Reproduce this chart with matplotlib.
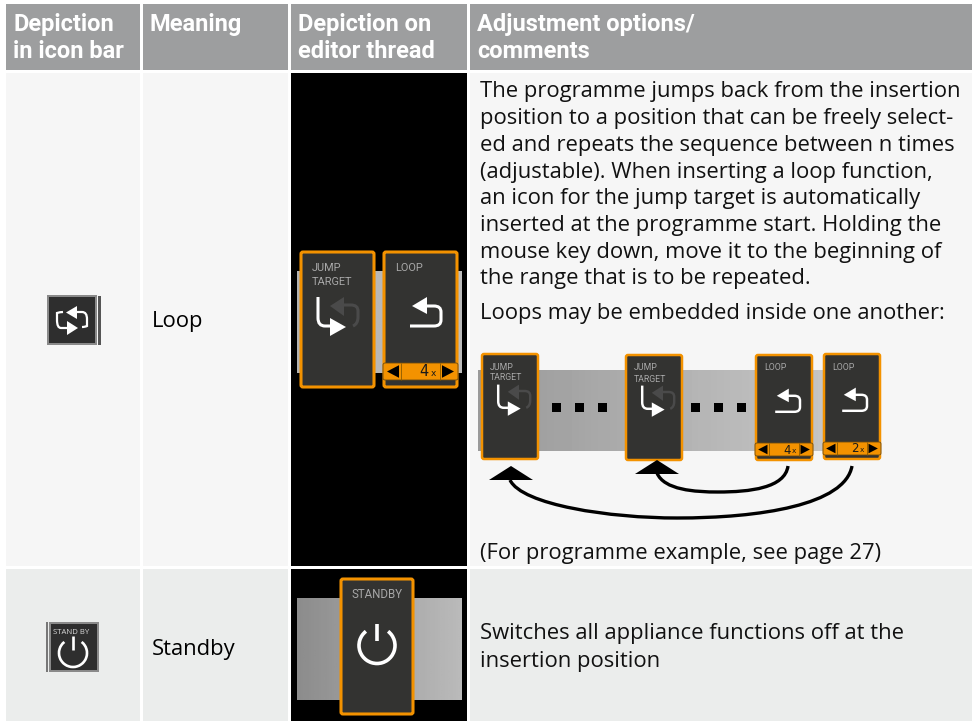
import numpy as np
import matplotlib
matplotlib.use("Agg")
import matplotlib.pyplot as plt
from matplotlib.patches import Rectangle, FancyBboxPatch, Polygon, Arc, PathPatch
from matplotlib.path import Path

headers = [["Depiction", "in icon bar"], ["Meaning"], ["Depiction on", "editor thread"], ["Adjustment options/", "comments"]]
meanings = ["Loop", "Standby"]
loop_lines = ["The programme jumps back from the insertion",
              "position to a position that can be freely select-",
              "ed and repeats the sequence between n times",
              "(adjustable). When inserting a loop function,",
              "an icon for the jump target is automatically",
              "inserted at the programme start. Holding the",
              "mouse key down, move it to the beginning of",
              "the range that is to be repeated."]
embedded_line = "Loops may be embedded inside one another:"
example_line = "(For programme example, see page 27)"
standby_lines = ["Switches all appliance functions off at the", "insertion position"]
col_edges = [(6, 140), (143, 288), (291, 467), (470, 972)]
header_x = [13, 149, 298, 477]

FONT = "Open Sans"
HFONT = "Roboto"
BODY = 15.8
ORANGE = "#f39200"
DARK = "#333331"
fig = plt.figure(figsize=(9.72, 7.21), dpi=100)
ax = fig.add_axes([0, 0, 1, 1])
ax.set_xlim(0, 972); ax.set_ylim(721, 0); ax.axis("off")

def rect(x0, y0, x1, y1, c, z=1):
    ax.add_patch(Rectangle((x0, y0), x1 - x0, y1 - y0, fc=c, ec="none", zorder=z))

def grad(x0, y0, x1, y1, c0, c1, z=2):
    g = np.linspace(c0, c1, 64).reshape(1, -1)
    ax.imshow(g, extent=(x0, x1, y1, y0), cmap="gray", vmin=0, vmax=1, aspect="auto", zorder=z)
    ax.set_xlim(0, 972); ax.set_ylim(721, 0)

def line(xs, ys, c="white", lw=1.6, z=6):
    ax.plot(xs, ys, color=c, lw=lw, zorder=z, solid_capstyle="butt")

def tri(pts, c="white", z=6):
    ax.add_patch(Polygon(pts, closed=True, fc=c, ec="none", zorder=z))

def card(x0, y0, x1, y1, lw=2.2):
    ax.add_patch(FancyBboxPatch((x0 + 2, y0 + 2), x1 - x0 - 4, y1 - y0 - 4, boxstyle="round,pad=1,rounding_size=2",
                                fc=DARK, ec=ORANGE, lw=lw, zorder=4))

def loop_arrow(cx, cy, s=1.0):
    ax.add_patch(PathPatch(Path([(cx - 16*s, cy + 11*s), (cx + 8*s, cy + 11*s), (cx + 15*s, cy + 11*s), (cx + 15*s, cy + 5*s),
                                 (cx + 15*s, cy - 3*s), (cx + 15*s, cy - 9*s), (cx + 8*s, cy - 9*s), (cx - 2*s, cy - 9*s)],
                                [Path.MOVETO, Path.LINETO, Path.CURVE3, Path.CURVE3, Path.LINETO, Path.CURVE3, Path.CURVE3, Path.LINETO]),
                           fc="none", ec="white", lw=2.2*s, zorder=6))
    tri([(cx - 14*s, cy - 9*s), (cx + 1*s, cy - 18*s), (cx + 1*s, cy - 1*s)])

def jump_arrow(cx, cy, s=1.0):
    ax.add_patch(PathPatch(Path([(cx + 2*s, cy - 10*s), (cx + 12*s, cy - 10*s), (cx + 19*s, cy - 10*s), (cx + 19*s, cy - 4*s),
                                 (cx + 19*s, cy + 2*s), (cx + 19*s, cy + 9*s), (cx + 14*s, cy + 11*s)],
                                [Path.MOVETO, Path.LINETO, Path.CURVE3, Path.CURVE3, Path.LINETO, Path.CURVE3, Path.CURVE3]),
                           fc="none", ec="#4a4a4a", lw=2.2*s, zorder=5))
    tri([(cx - 9*s, cy - 9*s), (cx + 5*s, cy - 18*s), (cx + 5*s, cy + 1*s)], c="#4a4a4a", z=5)
    ax.add_patch(PathPatch(Path([(cx - 21*s, cy - 18*s), (cx - 21*s, cy + 3*s), (cx - 21*s, cy + 11*s), (cx - 14*s, cy + 11*s), (cx - 4*s, cy + 11*s)],
                                [Path.MOVETO, Path.LINETO, Path.CURVE3, Path.CURVE3, Path.LINETO]),
                           fc="none", ec="white", lw=2.2*s, zorder=6))
    tri([(cx + 7*s, cy + 12*s), (cx - 9*s, cy + 3*s), (cx - 9*s, cy + 21*s)])

def stepper(x0, x1, y0, y1, label, fs, s=1.0):
    ax.add_patch(FancyBboxPatch((x0 + 1, y0 + 1), x1 - x0 - 2, y1 - y0 - 2, boxstyle="round,pad=1,rounding_size=2",
                                fc=ORANGE, ec="#6b4a10", lw=0.6, zorder=5))
    my = (y0 + y1) / 2; h = (y1 - y0) * 0.37
    tri([(x0 + 4*s, my), (x0 + 16*s, my - h), (x0 + 16*s, my + h)], c="black")
    tri([(x1 - 4*s, my), (x1 - 16*s, my - h), (x1 - 16*s, my + h)], c="black")
    line([x0 + 18*s, x0 + 18*s], [y0, y1], c="#8a5a00", lw=0.6)
    line([x1 - 18*s, x1 - 18*s], [y0, y1], c="#8a5a00", lw=0.6)
    ax.text(x1 - 29*s, my + 0.5, label, fontsize=fs, family="DejaVu Sans", ha="right", va="center", color="#1a1a1a", zorder=7)
    ax.text(x1 - 27*s, my + 2*s, "x", fontsize=fs*0.62, family="DejaVu Sans", ha="left", va="center", color="#1a1a1a", zorder=8)

def cardtext(x, y, s, fs=7.9, ha="left"):
    ax.text(x, y, s, fontsize=fs, family="Roboto", color="#a8a8a8", ha=ha, va="center", zorder=7)

def power(cx, cy, r, lw):
    ax.add_patch(Arc((cx, cy), 2*r, 2*r, theta1=-52, theta2=232, color="white", lw=lw, zorder=6))
    line([cx, cx], [cy - 1.22*r, cy - 0.23*r], lw=lw)

# Background
bg_row = ["#f6f6f6", "#ebedec"]
rows = [(73, 566), (569, 721)]
for (x0, x1), hx, hd in zip(col_edges, header_x, headers):
    rect(x0, 4, x1, 70, "#9d9e9f")
    for i, t in enumerate(hd):
        ax.text(hx, 25 + 27*i, t, fontsize=17, family=HFONT, weight="bold", color="white", ha="left", va="center", zorder=5)
for (y0, y1), c in zip(rows, bg_row):
    for i, (x0, x1) in enumerate(col_edges):
        rect(x0, y0, x1, y1, "black" if i == 2 else c)

# Meaning column
for t, y in zip(meanings, (321, 649)):
    ax.text(152, y, t, fontsize=BODY, family=FONT, color="black", ha="left", va="center", zorder=5)

# Comment column
for i, t in enumerate(loop_lines):
    ax.text(480, 92 + 26.7*i, t, fontsize=BODY, family=FONT, color="#111111", ha="left", va="center", zorder=5)
ax.text(480, 314, embedded_line, fontsize=BODY, family=FONT, color="#111111", ha="left", va="center", zorder=5)
ax.text(480, 554, example_line, fontsize=BODY, family=FONT, color="#111111", ha="left", va="center", zorder=5)
for i, t in enumerate(standby_lines):
    ax.text(480, 634 + 27*i, t, fontsize=BODY, family=FONT, color="#111111", ha="left", va="center", zorder=5)

# Icon bar: loop
rect(47, 295, 97, 345, "#8a8a8a", 3); rect(49, 297, 95, 343, "#2e2e2e", 4)
rect(98, 296, 100.5, 345, "#555555", 3)
ax.add_patch(PathPatch(Path([(68, 328), (61, 328), (57, 328), (57, 320), (57, 313), (60, 312), (63, 312)],
                            [Path.MOVETO, Path.LINETO, Path.CURVE3, Path.CURVE3, Path.LINETO, Path.CURVE3, Path.CURVE3]),
                       fc="none", ec="white", lw=1.6, zorder=6))
ax.add_patch(PathPatch(Path([(70, 312), (82, 312), (87, 312), (87, 319), (87, 326), (85, 327), (82, 327)],
                            [Path.MOVETO, Path.LINETO, Path.CURVE3, Path.CURVE3, Path.LINETO, Path.CURVE3, Path.CURVE3]),
                       fc="none", ec="white", lw=1.6, zorder=6))
tri([(66, 312.5), (77, 306), (77, 319)])
tri([(78, 328), (67, 321), (67, 335)])

# Icon bar: standby
rect(46, 622, 48, 672, "#777777", 3)
rect(49, 622, 99, 672, "#8a8a8a", 3); rect(51, 624, 97, 670, "#2e2e2e", 4)
ax.text(71, 632, "STAND BY", fontsize=5.6, family="Open Sans", color="#d8d8d8", ha="center", va="center", zorder=7)
power(73, 653, 14, 1.9)

# Editor: loop
grad(297, 271, 461, 373, 0.70, 0.74)
card(300, 251, 375, 388)
card(383, 251, 458, 388)
cardtext(312, 268, "JUMP"); cardtext(312, 282, "TARGET")
cardtext(395, 268, "LOOP")
jump_arrow(339, 315)
loop_arrow(426, 315)
stepper(383, 458, 363, 380, "4", 10.5, 1.0)

# Editor: standby
grad(297, 598, 461, 700, 0.55, 0.73)
card(340, 578, 414, 715)
cardtext(377, 595, "STANDBY", 8.3, "center")
power(377, 645.5, 18, 2.6)

# Embedded loop diagram
grad(478, 370, 880, 451, 0.60, 0.80)
s2 = 0.8
for x0, y0, y1 in [(481, 353, 460), (625, 354, 461), (755, 354, 461), (823, 353, 460)]:
    card(x0, y0, x0 + 58, y1, lw=1.8)
for x, y in [(490, 367), (634, 368)]:
    cardtext(x, y, "JUMP", 6.3); cardtext(x, y + 11, "TARGET", 6.3)
for x, y in [(764, 368), (832, 367)]:
    cardtext(x, y, "LOOP", 6.3)
jump_arrow(515, 399, s2); jump_arrow(659, 400, s2)
loop_arrow(788, 403, s2); loop_arrow(855, 402, s2)
stepper(755, 813, 443, 456, "4", 8.5, 0.78)
stepper(823, 881, 442, 455, "2", 8.5, 0.78)
for xs in [(552, 561), (575, 584), (598, 607), (691, 700), (714, 723), (737, 746)]:
    rect(xs[0], 403, xs[1], 412, "black", 5)

tri([(489, 480), (511, 466), (533, 480)], c="black")
tri([(635, 474), (657, 460), (679, 474)], c="black")
ax.add_patch(PathPatch(Path([(657, 473), (664, 490), (695, 492), (718, 492), (750, 492), (785, 488), (788, 466)],
                            [Path.MOVETO] + [Path.CURVE4]*6),
                       fc="none", ec="black", lw=2.4, zorder=6))
ax.add_patch(PathPatch(Path([(510, 480), (522, 505), (610, 518), (677, 518), (760, 518), (845, 505), (852, 466)],
                            [Path.MOVETO] + [Path.CURVE4]*6),
                       fc="none", ec="black", lw=2.4, zorder=6))

fig.savefig("out.png", dpi=100, facecolor="white")
